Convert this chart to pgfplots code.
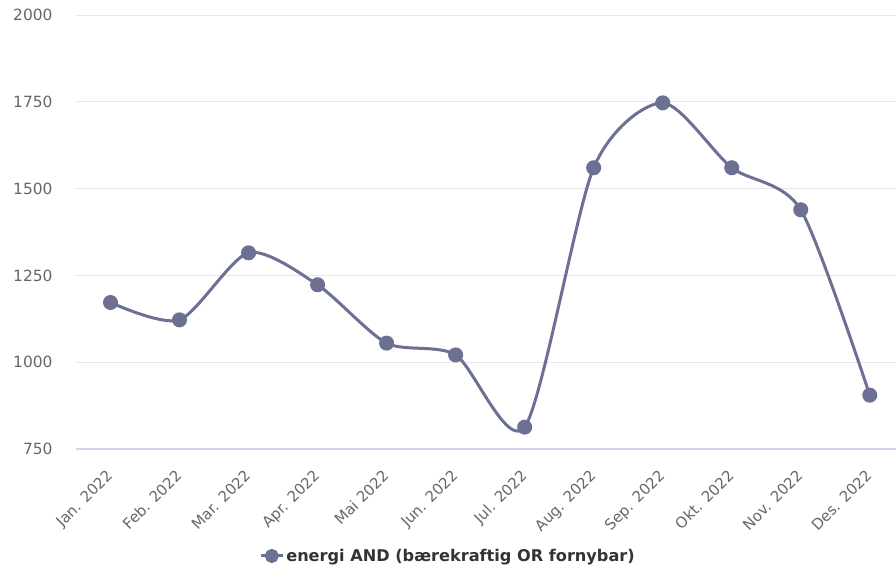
\documentclass[border=0pt]{standalone}
\usepackage{fontspec}
\setmainfont{DejaVu Sans}
\usepackage{pgfplots}
\pgfplotsset{compat=1.18}
\definecolor{series}{RGB}{108,113,148}
\definecolor{gridc}{RGB}{230,230,230}
\definecolor{axisc}{RGB}{204,214,235}
\definecolor{labc}{RGB}{102,102,102}
\definecolor{legc}{RGB}{51,51,51}
\begin{document}
\begin{tikzpicture}
\useasboundingbox (-76bp,-137bp) rectangle (820bp,449bp);
\begin{axis}[
  at={(0,0)}, anchor=south west,
  scale only axis, width=820bp, height=434bp,
  xmin=-0.5, xmax=11.38,
  ymin=750, ymax=2000,
  ytick={750,1000,1250,1500,1750,2000},
  xtick={0,...,11},
  xticklabels={Jan. 2022,Feb. 2022,Mar. 2022,Apr. 2022,Mai 2022,Jun. 2022,Jul. 2022,Aug. 2022,Sep. 2022,Okt. 2022,Nov. 2022,Des. 2022},
  /pgf/number format/assume math mode=true,
  /pgf/number format/1000 sep={},
  ymajorgrids, grid style={gridc, line width=0.8bp},
  major tick length=0pt,
  axis x line*=bottom, axis y line*=left,
  x axis line style={axisc, line width=1.2bp, -},
  y axis line style={draw=none},
  clip=false,
  tick label style={labc, font=\fontsize{15.5}{17}\selectfont},
  yticklabel style={xshift=-20bp},
  xticklabel style={rotate=45, anchor=north east, xshift=-14bp, yshift=-7bp, font=\fontsize{15}{17}\selectfont},
  legend style={at={(0.4537,-0.2465)}, anchor=center, draw=none, fill=none,
    font=\bfseries\fontsize{16.2}{18}\selectfont, text=legc},
  legend image code/.code={\draw[series, line width=3bp] (-2bp,0bp) -- (20bp,0bp);
    \fill[series] (9bp,0bp) circle (5.5bp);},
]
\addplot[series, line width=3bp, smooth, tension=0.45, mark=*, mark size=6bp, mark options={fill=series, draw=series}]
coordinates {
(0,1172) (1,1122) (2,1315) (3,1223) (4,1055) (5,1021) (6,813) (7,1560) (8,1747) (9,1560) (10,1439) (11,905)
};
\addlegendentry{energi AND (bærekraftig OR fornybar)}
\end{axis}
\end{tikzpicture}
\end{document}
